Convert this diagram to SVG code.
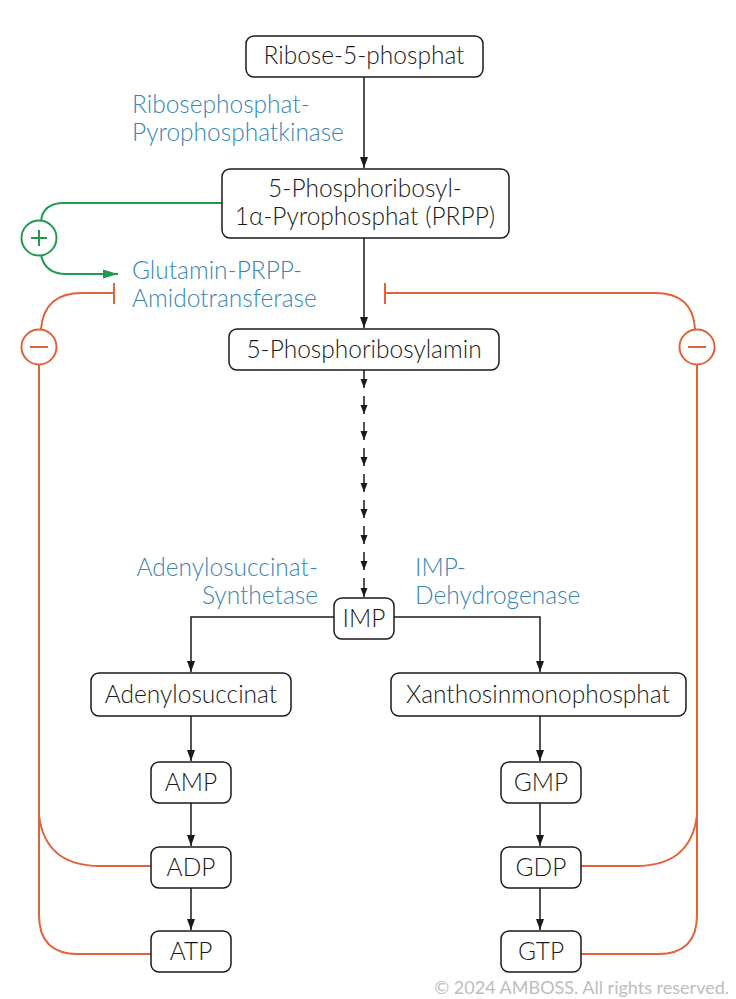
<svg xmlns="http://www.w3.org/2000/svg" width="736" height="999" viewBox="0 0 736 999">
<style>
.box{fill:#fff;stroke:#1a1a1a;stroke-width:1.5}
.t{font-family:Lato,"Open Sans","Liberation Sans",sans-serif;font-weight:300;font-size:24.5px;fill:#1a1a1a;text-anchor:middle}
.e{font-family:Lato,"Open Sans","Liberation Sans",sans-serif;font-weight:300;font-size:24.5px;fill:#3a85b5}
.ln{fill:none;stroke:#1a1a1a;stroke-width:1.5}
.g{fill:none;stroke:#22994f;stroke-width:2}
.o{fill:none;stroke:#e0633a;stroke-width:2}
.cp{font-family:Lato,"Open Sans","Liberation Sans",sans-serif;font-weight:400;font-size:18px;fill:#bdbdbd;text-anchor:end}
</style>
<defs>
<marker id="ah" markerUnits="userSpaceOnUse" markerWidth="12" markerHeight="12" viewBox="0 0 12 12" refX="11" refY="6" orient="auto">
<path d="M0,2 L11,6 L0,10 Z" fill="#1a1a1a"/>
</marker>
<marker id="ahs" markerUnits="userSpaceOnUse" markerWidth="10" markerHeight="10" viewBox="0 0 10 10" refX="9" refY="5" orient="auto">
<path d="M0,1.5 L9,5 L0,8.5 Z" fill="#1a1a1a"/>
</marker>
<marker id="ag" markerUnits="userSpaceOnUse" markerWidth="16" markerHeight="12" viewBox="0 0 16 12" refX="15" refY="6" orient="auto">
<path d="M0,1.5 L15,6 L0,10.5 Z" fill="#22994f"/>
</marker>
</defs>
<rect width="736" height="999" fill="#fff"/>
<g id="connectors">
<line class="ln" x1="364" y1="77" x2="364" y2="168" marker-end="url(#ah)"/>
<line class="ln" x1="364" y1="238" x2="364" y2="328" marker-end="url(#ah)"/>
<line class="ln" x1="364" y1="370" x2="364" y2="388" marker-end="url(#ahs)"/>
<line class="ln" x1="364" y1="396" x2="364" y2="414" marker-end="url(#ahs)"/>
<line class="ln" x1="364" y1="422" x2="364" y2="440" marker-end="url(#ahs)"/>
<line class="ln" x1="364" y1="448" x2="364" y2="466" marker-end="url(#ahs)"/>
<line class="ln" x1="364" y1="474" x2="364" y2="492" marker-end="url(#ahs)"/>
<line class="ln" x1="364" y1="500" x2="364" y2="518" marker-end="url(#ahs)"/>
<line class="ln" x1="364" y1="526" x2="364" y2="544" marker-end="url(#ahs)"/>
<line class="ln" x1="364" y1="552" x2="364" y2="570" marker-end="url(#ahs)"/>
<line class="ln" x1="364" y1="578" x2="364" y2="597" marker-end="url(#ahs)"/>
<path class="ln" d="M334,617 H191 V672" marker-end="url(#ah)"/>
<path class="ln" d="M394,617 H540 V672" marker-end="url(#ah)"/>
<line class="ln" x1="191" y1="716" x2="191" y2="761" marker-end="url(#ah)"/>
<line class="ln" x1="191" y1="803" x2="191" y2="846" marker-end="url(#ah)"/>
<line class="ln" x1="191" y1="888" x2="191" y2="930" marker-end="url(#ah)"/>
<line class="ln" x1="540" y1="716" x2="540" y2="761" marker-end="url(#ah)"/>
<line class="ln" x1="540" y1="803" x2="540" y2="846" marker-end="url(#ah)"/>
<line class="ln" x1="540" y1="888" x2="540" y2="930" marker-end="url(#ah)"/>
<path class="g" d="M222,203 H64 Q43,203 41,221"/>
<circle cx="39" cy="238" r="17.5" fill="#fff" stroke="#22994f" stroke-width="2"/>
<path d="M39,230 V246 M31,238 H47" stroke="#22994f" stroke-width="2" fill="none"/>
<path class="g" d="M41,255 Q45,274 66,274 H118" marker-end="url(#ag)"/>
<path class="o" d="M114,293 H82 Q44,293 41,329"/>
<line class="o" x1="114" y1="283" x2="114" y2="304"/>
<circle cx="39" cy="347" r="17.5" fill="#fff" stroke="#e0633a" stroke-width="2"/>
<line class="o" x1="30" y1="347" x2="48" y2="347"/>
<path class="o" d="M39,365 V915 Q39,954 78,954 H151"/>
<path class="o" d="M39,815 Q45,866 100,866 H151"/>
<path class="o" d="M385,293 H655 Q693,293 695,329"/>
<line class="o" x1="385" y1="283" x2="385" y2="304"/>
<circle cx="697" cy="347" r="17.5" fill="#fff" stroke="#e0633a" stroke-width="2"/>
<line class="o" x1="688" y1="347" x2="706" y2="347"/>
<path class="o" d="M697,365 V915 Q697,954 658,954 H581"/>
<path class="o" d="M697,815 Q691,866 636,866 H581"/>
</g>
<g id="n-r5p"><rect class="box" x="246" y="36" width="237" height="41" rx="8"/><text class="t" x="364" y="64">Ribose-5-phosphat</text></g>
<g id="n-prpp"><rect class="box" x="222" y="169" width="287" height="69" rx="8"/><text class="t" x="365" y="197">5-Phosphoribosyl-</text><text class="t" x="365" y="225">1α-Pyrophosphat (PRPP)</text></g>
<g id="n-amin"><rect class="box" x="229" y="329" width="270" height="41" rx="8"/><text class="t" x="364" y="358">5-Phosphoribosylamin</text></g>
<g id="n-imp"><rect class="box" x="334" y="598" width="60" height="41" rx="8"/><text class="t" x="364" y="627">IMP</text></g>
<g id="n-adsucc"><rect class="box" x="91" y="673" width="200" height="43" rx="8"/><text class="t" x="191" y="703">Adenylosuccinat</text></g>
<g id="n-xmp"><rect class="box" x="391" y="673" width="295" height="43" rx="8"/><text class="t" x="538" y="703">Xanthosinmonophosphat</text></g>
<g id="n-amp"><rect class="box" x="151" y="762" width="80" height="41" rx="8"/><text class="t" x="191" y="791">AMP</text></g>
<g id="n-adp"><rect class="box" x="151" y="847" width="80" height="41" rx="8"/><text class="t" x="191" y="876">ADP</text></g>
<g id="n-atp"><rect class="box" x="151" y="931" width="80" height="41" rx="8"/><text class="t" x="191" y="960">ATP</text></g>
<g id="n-gmp"><rect class="box" x="501" y="762" width="80" height="41" rx="8"/><text class="t" x="541" y="791">GMP</text></g>
<g id="n-gdp"><rect class="box" x="501" y="847" width="80" height="41" rx="8"/><text class="t" x="541" y="876">GDP</text></g>
<g id="n-gtp"><rect class="box" x="501" y="931" width="80" height="41" rx="8"/><text class="t" x="541" y="960">GTP</text></g>
<g id="labels">
<text class="e" x="132" y="113">Ribosephosphat-</text>
<text class="e" x="132" y="141">Pyrophosphatkinase</text>
<text class="e" x="132" y="279">Glutamin-PRPP-</text>
<text class="e" x="132" y="307">Amidotransferase</text>
<text class="e" x="318" y="576" text-anchor="end">Adenylosuccinat-</text>
<text class="e" x="318" y="604" text-anchor="end">Synthetase</text>
<text class="e" x="415" y="576">IMP-</text>
<text class="e" x="415" y="604">Dehydrogenase</text>
<text class="cp" x="729" y="994">© 2024 AMBOSS. All rights reserved.</text>
</g>
</svg>
